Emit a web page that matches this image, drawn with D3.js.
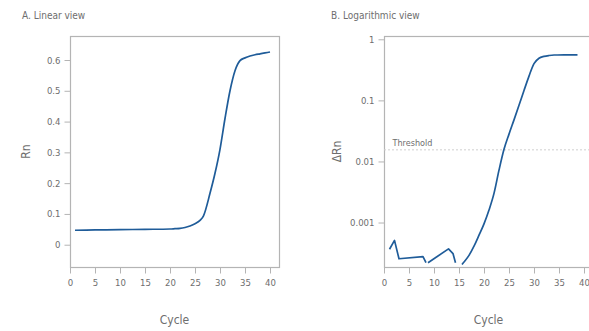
<!DOCTYPE html>
<html>
<head>
<meta charset="utf-8">
<script src="https://cdn.jsdelivr.net/npm/d3@7"></script>
<style>
	body { margin: 0; background: #fff; }
	text { font-family: "Liberation Sans Narrow", "DejaVu Sans Condensed", "Arial Narrow", sans-serif; font-stretch: condensed; fill: #6e6e6e; }
</style>
</head>
<body>
<div id="chart"></div>
<script>
var W = 589, H = 331;

// linear view (Rn per cycle)
var linCycles = [1, 5, 10, 15, 20, 21, 22, 23, 24, 25, 26, 26.7, 28, 29, 30, 31, 32, 33, 34, 35, 36, 37, 38, 39, 40];
var linValues = [0.047, 0.048, 0.049, 0.050, 0.051, 0.052, 0.053, 0.056, 0.061, 0.068, 0.079, 0.094, 0.167, 0.232, 0.31, 0.41, 0.50, 0.565, 0.598, 0.607, 0.613, 0.617, 0.620, 0.623, 0.626];

// log view (delta Rn), null = gap in the trace
var logCycles = [1.1, 2.1, 3.0, 7.8, 8.4, null, 8.8, 12.9, 13.8, 14.3, null,
	15.6, 16, 17, 18, 19, 20, 21, 22, 23, 24, 25, 26, 27, 28, 29, 30, 31, 32, 33, 34, 36, 38.7];
var logValues = [3.65e-4, 5.1e-4, 2.55e-4, 2.77e-4, 2.2e-4, null, 2.2e-4, 3.7e-4, 3.1e-4, 2.2e-4, null,
	2.05e-4, 2.25e-4, 2.9e-4, 4.1e-4, 6.2e-4, 9.5e-4, 1.6e-3, 3.0e-3, 7.2e-3, 0.0158, 0.028, 0.048, 0.083, 0.145, 0.25, 0.40, 0.49, 0.525, 0.543, 0.553, 0.555, 0.556];

var threshold = 0.0155;
var xTicks = [0, 5, 10, 15, 20, 25, 30, 35, 40];
var linTicks = [0, 0.1, 0.2, 0.3, 0.4, 0.5, 0.6];
var logTicks = [1, 0.1, 0.01, 0.001];

var lineColor = "#1f5c99";
var axisColor = "#b4b4b4";

var svg = d3.select("#chart").append("svg")
	.attr("width", W)
	.attr("height", H);

function styleAxis(g) {
	g.select(".domain").remove();
	g.selectAll(".tick line").attr("stroke", axisColor);
	g.selectAll(".tick text").style("font-size", "9.5px").attr("fill", "#777");
}

function frame(x0, x1, y0, y1) {
	svg.append("rect")
		.attr("x", x0 + 0.5)
		.attr("y", y0 + 0.5)
		.attr("width", x1 - x0)
		.attr("height", y1 - y0)
		.attr("fill", "none")
		.attr("stroke", axisColor)
		.attr("stroke-width", 1.2);
}

// ---------- panel A ----------
var ax = d3.scaleLinear().domain([0, 41.8]).range([70, 279]);
var ay = d3.scaleLinear().domain([-0.0724, 0.678]).range([267, 36]);

frame(70, 279, 36, 267);

svg.append("g")
	.attr("transform", "translate(0,267.5)")
	.call(d3.axisBottom(ax).tickValues(xTicks).tickSize(6).tickPadding(6))
	.call(styleAxis);

svg.append("g")
	.attr("transform", "translate(70.5,0)")
	.call(d3.axisLeft(ay).tickValues(linTicks).tickSize(6).tickPadding(4)
		.tickFormat(d => d === 0 ? "0" : d3.format(".1f")(d)))
	.call(styleAxis);

var linData = linCycles.map((c, i) => [c, linValues[i]]);
svg.append("path")
	.datum(linData)
	.attr("fill", "none")
	.attr("stroke", lineColor)
	.attr("stroke-width", 1.7)
	.attr("d", d3.line().x(d => ax(d[0])).y(d => ay(d[1])).curve(d3.curveMonotoneX));

svg.append("text")
	.attr("x", 22)
	.attr("y", 19)
	.style("font-size", "10px")
	.attr("fill", "#555")
	.text("A. Linear view");

svg.append("text")
	.attr("transform", "translate(30,151.5) rotate(-90)")
	.attr("text-anchor", "middle")
	.style("font-size", "12px")
	.text("Rn");

svg.append("text")
	.attr("x", 174.5)
	.attr("y", 324)
	.attr("text-anchor", "middle")
	.style("font-size", "12px")
	.text("Cycle");

// ---------- panel B ----------
var bx = d3.scaleLinear().domain([0, 41.8]).range([384, 593]);
var by = d3.scaleLog().domain([1.87e-4, 1.133]).range([267, 36]);

frame(384, 593, 36, 267);

svg.append("g")
	.attr("transform", "translate(0,267.5)")
	.call(d3.axisBottom(bx).tickValues(xTicks).tickSize(6).tickPadding(6))
	.call(styleAxis);

svg.append("g")
	.attr("transform", "translate(384.5,0)")
	.call(d3.axisLeft(by).tickValues(logTicks).tickSize(6).tickPadding(4)
		.tickFormat(d => String(d)))
	.call(styleAxis);

svg.append("line")
	.attr("x1", bx(0))
	.attr("x2", W)
	.attr("y1", by(threshold))
	.attr("y2", by(threshold))
	.attr("stroke", "#cfcfcf")
	.attr("stroke-width", 1)
	.attr("stroke-dasharray", "2,2");

svg.append("text")
	.attr("x", 392.5)
	.attr("y", by(threshold) - 4)
	.style("font-size", "9px")
	.text("Threshold");

var logData = logCycles.map((c, i) => [c, logValues[i]]);
var ok = d => d[0] !== null && d[1] !== null;
// noisy baseline drawn straight, amplification curve smoothed
svg.append("path")
	.datum(logData.filter(d => !ok(d) || d[0] < 15))
	.attr("fill", "none")
	.attr("stroke", lineColor)
	.attr("stroke-width", 1.7)
	.attr("stroke-linejoin", "round")
	.attr("d", d3.line().defined(ok).x(d => bx(d[0])).y(d => by(d[1])));

svg.append("path")
	.datum(logData.filter(d => ok(d) && d[0] >= 15))
	.attr("fill", "none")
	.attr("stroke", lineColor)
	.attr("stroke-width", 1.7)
	.attr("d", d3.line().x(d => bx(d[0])).y(d => by(d[1])).curve(d3.curveMonotoneX));

svg.append("text")
	.attr("x", 331)
	.attr("y", 19)
	.style("font-size", "10px")
	.attr("fill", "#555")
	.text("B. Logarithmic view");

svg.append("text")
	.attr("transform", "translate(341,151.5) rotate(-90)")
	.attr("text-anchor", "middle")
	.style("font-size", "12px")
	.text("ΔRn");

svg.append("text")
	.attr("x", 488.5)
	.attr("y", 324)
	.attr("text-anchor", "middle")
	.style("font-size", "12px")
	.text("Cycle");
</script>
</body>
</html>
